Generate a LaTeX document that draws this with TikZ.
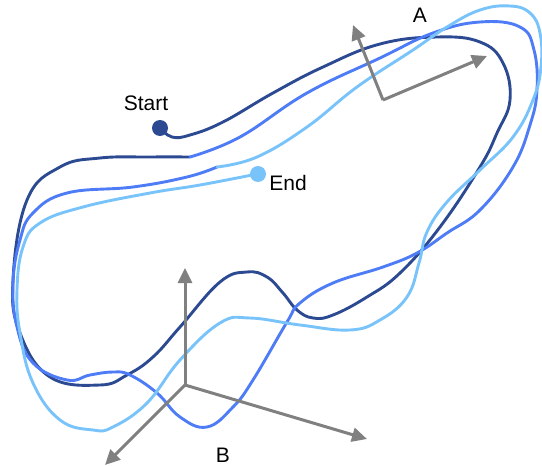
\documentclass[tikz,border=0pt]{standalone}
\usepackage{fontspec}
\setmainfont{Liberation Sans}
\usetikzlibrary{arrows.meta}
\definecolor{cdark}{RGB}{44,74,146}
\definecolor{cmed}{RGB}{78,124,246}
\definecolor{clight}{RGB}{121,195,251}
\definecolor{axgray}{RGB}{128,128,128}
\tikzset{
  curve/.style={line width=2.9pt, line cap=round, line join=round},
  axis/.style={draw=axgray, line width=3pt, -{Triangle[length=15pt,width=14pt]}},
  dot/.style={circle, inner sep=0pt, minimum size=16pt},
  lbl/.style={font=\fontsize{21}{25}\selectfont, inner sep=0pt}
}
\begin{document}
\begin{tikzpicture}[x=1pt,y=-1pt]
\useasboundingbox (0,0) rectangle (542,466);
% loop 1 (dark)
\draw[curve, cdark] plot[smooth, tension=0.7] coordinates {
(160,128) (172,137) (190,135) (223,122) (273,93) (323,67) (380,44) (437,37) (480,42) (503,63) (510,100) (497,133) (480,167) (440,227) (400,273) (367,297) (333,315) (313,318) (297,310) (283,293) (267,277) (247,272) (220,282) (180,327) (153,357) (127,375) (100,385) (50,377) (20,333) (13,280) (27,200) (60,167) (100,158) (150,157) (190,157)};
% loop 2 (medium)
\draw[curve, cmed] plot[smooth, tension=0.7] coordinates {
(190,157) (240,137) (307,93) (380,58) (433,33) (480,22) (520,27) (534,50) (537,90) (530,125) (513,167) (480,210) (447,233) (417,253) (383,267) (333,283) (300,303) (287,322) (253,380) (233,407) (207,427) (180,417) (157,393) (130,375) (113,372) (90,375) (67,380) (33,363) (17,327) (13,283) (20,240) (33,213) (67,193) (133,187) (187,177) (217,167)};
% loop 3 (light)
\draw[curve, clight] plot[smooth, tension=0.7] coordinates {
(217,167) (257,157) (307,127) (357,87) (413,50) (447,27) (480,10) (510,6) (530,13) (540,33) (541,67) (533,100) (513,137) (480,170) (447,202) (427,232) (419,263) (407,297) (380,320) (350,330) (300,325) (250,318) (220,323) (180,360) (147,403) (113,427) (93,430) (60,420) (33,383) (20,333) (17,290) (23,247) (40,223) (83,207) (150,193) (200,185) (257,174)};
\node[dot, fill=cdark] (start) at (160,128) {};
\node[dot, fill=clight] (end) at (258,174) {};
\node[lbl] (startlbl) at (146,103) {Start};
\node[lbl] (endlbl) at (288,183) {End};
% axes A
\coordinate (oA) at (383,100);
\coordinate (aA1) at (353,25);
\coordinate (aA2) at (487,56);
\draw[axis] (oA) -- (aA1);
\draw[axis] (oA) -- (aA2);
\node[lbl] (labA) at (420,15) {A};
% axes B
\coordinate (oB) at (185,385);
\coordinate (bB1) at (185,268);
\coordinate (bB2) at (105,465);
\draw[axis] (oB) -- (bB1);
\draw[axis] (oB) -- (bB2);
\coordinate (bB3) at (367,439);
\draw[axis] (oB) -- (bB3);
\node[lbl] (labB) at (223,455) {B};
\end{tikzpicture}
\end{document}
